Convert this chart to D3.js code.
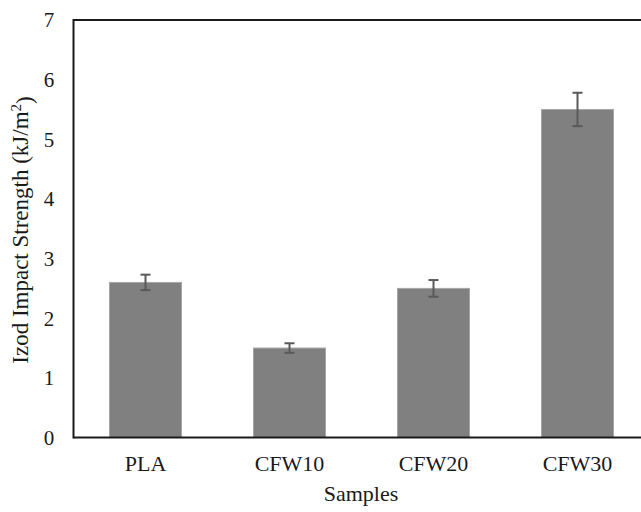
<!DOCTYPE html>
<meta charset="utf-8">
<style>
  body { margin: 0; background: #fff; }
  text { font-family: "Liberation Serif", "Times New Roman", serif; fill: #1a1a1a; }
</style>
<body>
<svg width="641" height="512"></svg>
<script src="https://d3js.org/d3.v7.min.js"></script>
<script>

var samples = ["PLA", "CFW10", "CFW20", "CFW30"];
var strength = [2.6, 1.5, 2.5, 5.5];
var errors = [0.13, 0.08, 0.14, 0.28];
var yTicks = [0, 1, 2, 3, 4, 5, 6, 7];

var svg = d3.select("svg");
var plotLeft = 73.5, plotTop = 20, plotRight = 649.5, plotBottom = 437.5;

var x = d3.scaleBand().domain(samples).range([plotLeft, plotRight])
    .paddingInner(0.5).paddingOuter(0.25);
var y = d3.scaleLinear().domain([0, 7]).range([plotBottom, plotTop]);

svg.selectAll("rect.bar")
    .data(samples)
    .enter().append("rect")
      .attr("class", "bar")
      .attr("x", function(d) { return x(d); })
      .attr("width", x.bandwidth())
      .attr("y", function(d, i) { return y(strength[i]); })
      .attr("height", function(d, i) { return plotBottom - y(strength[i]); })
      .attr("fill", "#808080")
      .attr("stroke", "#a6a6a6")
      .attr("stroke-width", 1);

// frame lines (left, bottom, top)
svg.append("line").attr("x1", plotLeft).attr("x2", plotLeft).attr("y1", plotTop - 1).attr("y2", plotBottom + 1)
    .attr("stroke", "#1a1a1a").attr("stroke-width", 2);
svg.append("line").attr("x1", plotLeft).attr("x2", 641).attr("y1", plotBottom).attr("y2", plotBottom)
    .attr("stroke", "#1a1a1a").attr("stroke-width", 2);
svg.append("line").attr("x1", plotLeft).attr("x2", 641).attr("y1", plotTop).attr("y2", plotTop)
    .attr("stroke", "#1a1a1a").attr("stroke-width", 2);

var err = svg.selectAll("g.err")
    .data(samples)
    .enter().append("g")
      .attr("class", "err")
      .attr("stroke", "#595959")
      .attr("stroke-width", 2);

err.append("line")
    .attr("x1", function(d) { return x(d) + x.bandwidth() / 2; })
    .attr("x2", function(d) { return x(d) + x.bandwidth() / 2; })
    .attr("y1", function(d, i) { return y(strength[i] + errors[i]); })
    .attr("y2", function(d, i) { return y(strength[i] - errors[i]); });
[1, -1].forEach(function(s) {
  err.append("line")
      .attr("x1", function(d) { return x(d) + x.bandwidth() / 2 - 5; })
      .attr("x2", function(d) { return x(d) + x.bandwidth() / 2 + 5; })
      .attr("y1", function(d, i) { return y(strength[i] + s * errors[i]); })
      .attr("y2", function(d, i) { return y(strength[i] + s * errors[i]); });
});

// y tick labels
svg.selectAll("text.ytick")
    .data(yTicks)
    .enter().append("text")
      .attr("class", "ytick")
      .attr("x", 49)
      .attr("y", function(d) { return y(d); })
      .attr("dy", "0.35em")
      .attr("text-anchor", "middle")
      .style("font-size", "21px")
      .text(function(d) { return d; });

// x labels
svg.selectAll("text.xtick")
    .data(samples)
    .enter().append("text")
      .attr("class", "xtick")
      .attr("x", function(d) { return x(d) + x.bandwidth() / 2; })
      .attr("y", 471)
      .attr("text-anchor", "middle")
      .style("font-size", "22px")
      .text(function(d) { return d; });

svg.append("text")
    .attr("x", 361)
    .attr("y", 501)
    .attr("text-anchor", "middle")
    .style("font-size", "22px")
    .text("Samples");

var ylab = svg.append("text")
    .attr("transform", "translate(28,230) rotate(-90)")
    .attr("text-anchor", "middle")
    .style("font-size", "23px");
ylab.append("tspan").text("Izod Impact Strength (kJ/m");
ylab.append("tspan").attr("dy", "-0.45em").style("font-size", "15px").text("2");
ylab.append("tspan").attr("dy", "0.45em").text(")");

</script>
</body>
